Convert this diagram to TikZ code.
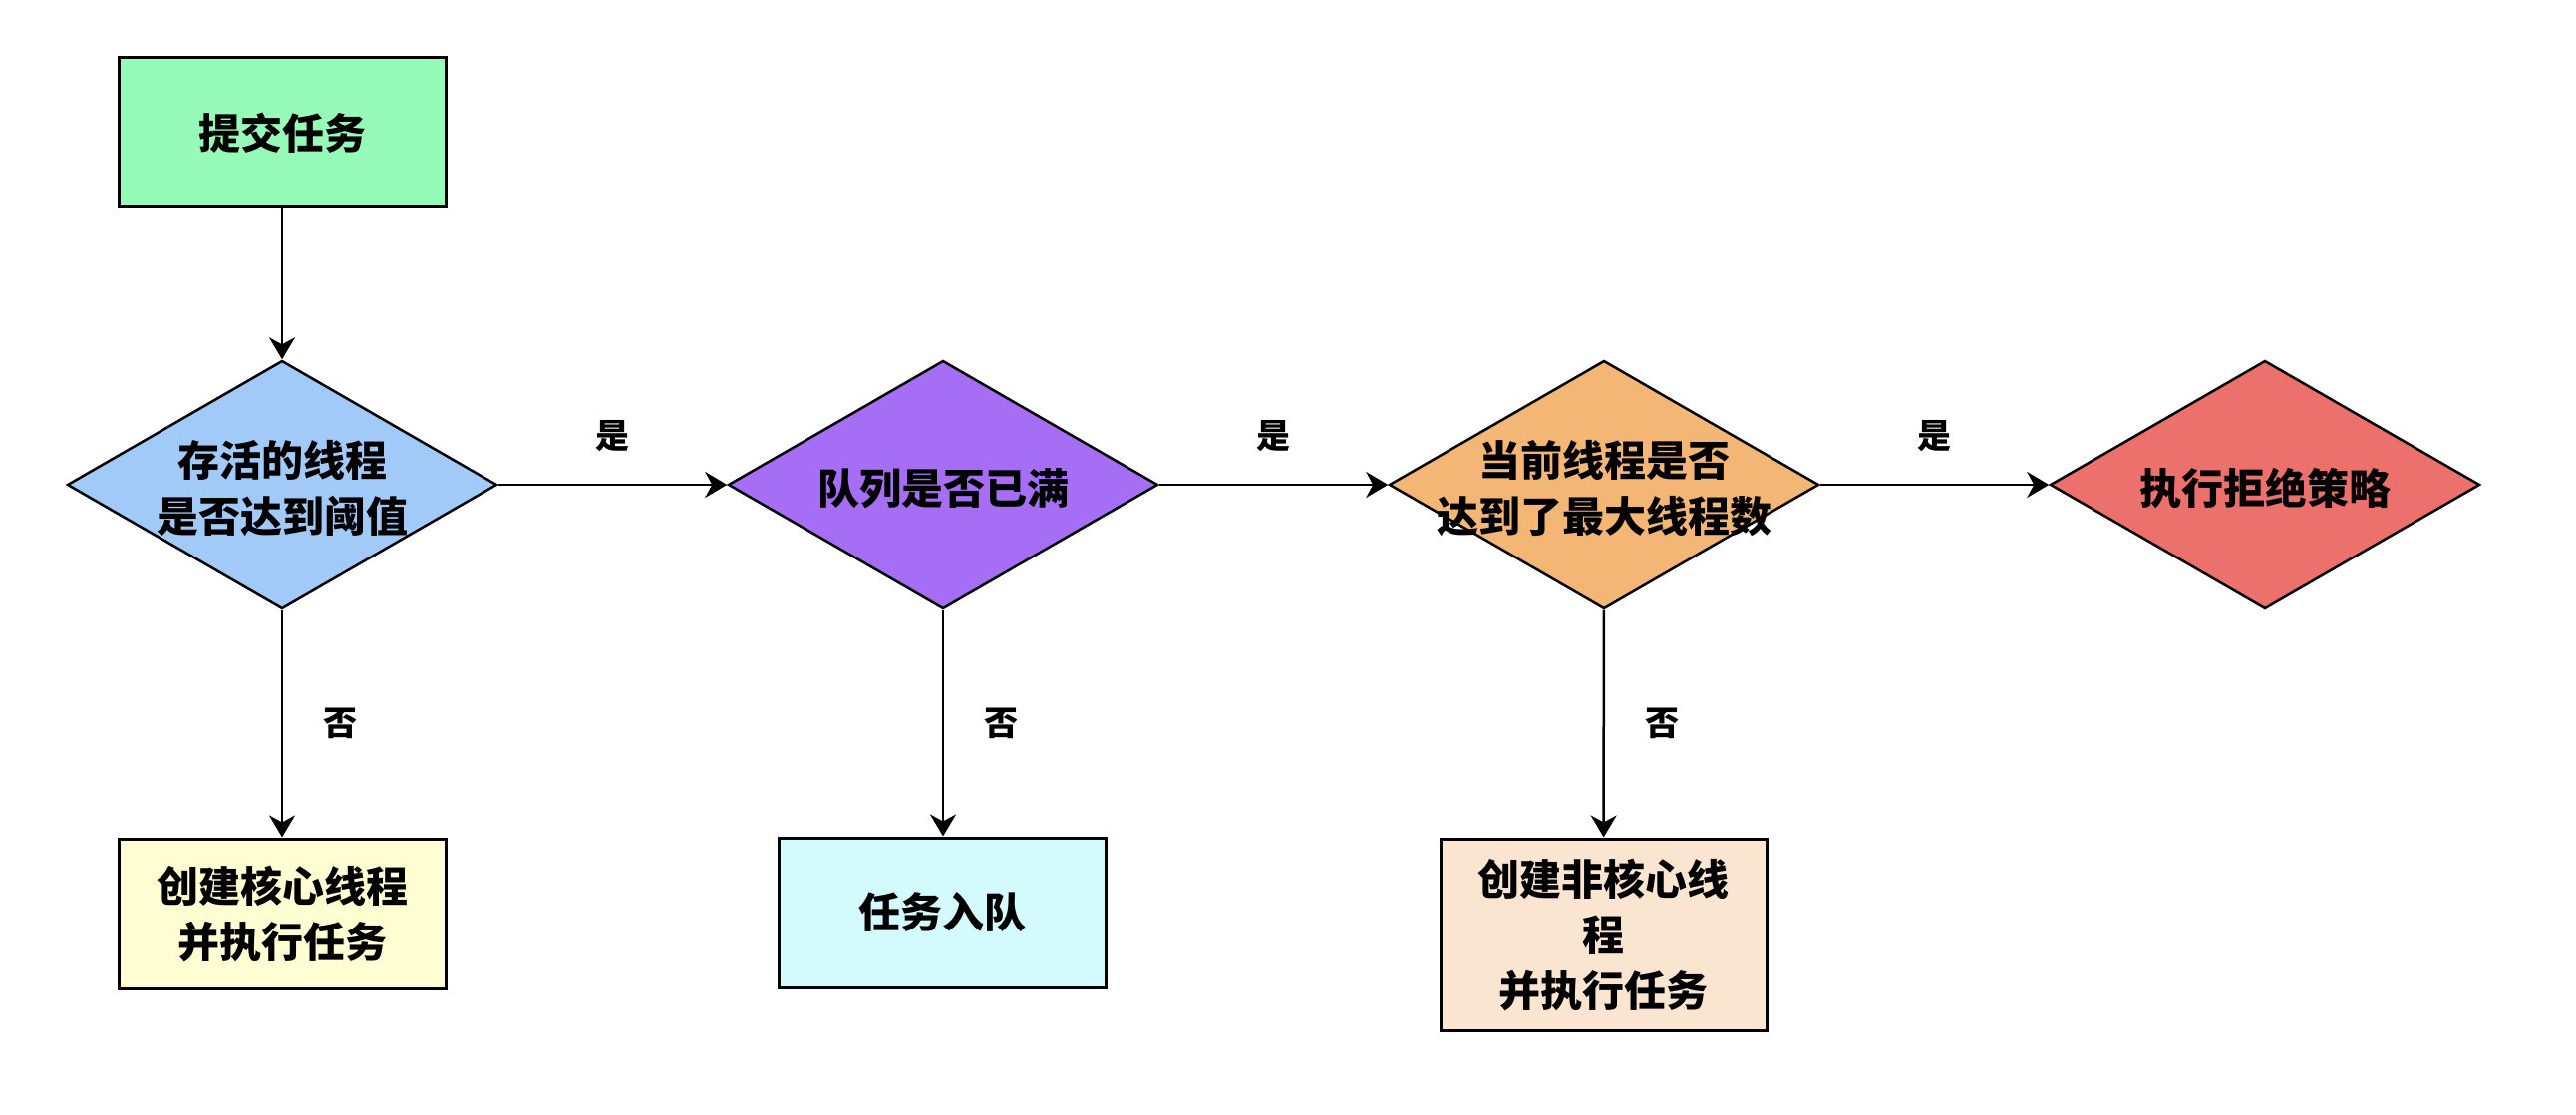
\documentclass[tikz,border=0pt]{standalone}
\usepackage{fontspec}
\setmainfont{Noto Sans CJK SC}
\usetikzlibrary{shapes.geometric,arrows.meta}
\definecolor{cgreen}{HTML}{96FBB8}
\definecolor{cblue}{HTML}{A2CAF8}
\definecolor{cpurple}{HTML}{A66EF5}
\definecolor{corange}{HTML}{F3B675}
\definecolor{cred}{HTML}{EC706B}
\definecolor{cyellow}{HTML}{FFFDD2}
\definecolor{ccyan}{HTML}{D3FAFC}
\definecolor{cpeach}{HTML}{FAE5D0}
\begin{document}
\begin{tikzpicture}[x=1pt,y=-1pt,
  box/.style={draw=black, line width=3pt, minimum width=328pt, minimum height=150pt, align=center, inner sep=0pt, font=\fontsize{42}{56}\selectfont\bfseries},
  decision/.style={draw=black, line width=2.5pt, shape=diamond, minimum width=431pt, minimum height=249pt, inner sep=0pt},
  dtext/.style={align=center, inner sep=0pt, font=\fontsize{42}{56}\selectfont\bfseries},
  arr/.style={draw=black, line width=2.5pt, -{Stealth[length=22pt,width=26pt,inset=7pt]}},
  lbl/.style={inner sep=0pt, font=\fontsize{34}{40}\selectfont\bfseries}]
\useasboundingbox (0,0) rectangle (2584,1118);
% nodes
\node[box, fill=cgreen] (start) at (283,133) {提交任务};
\node[decision, fill=cblue] (d1) at (283,486) {};
\node[dtext] (d1t) at (283,490) {存活的线程\\是否达到阈值};
\node[decision, fill=cpurple] (d2) at (946,486) {};
\node[dtext] (d2t) at (946,490) {队列是否已满};
\node[decision, fill=corange] (d3) at (1609,486) {};
\node[dtext] (d3t) at (1609,490) {当前线程是否\\达到了最大线程数};
\node[decision, fill=cred] (d4) at (2272,486) {};
\node[dtext] (d4t) at (2272,490) {执行拒绝策略};
\node[box, fill=cyellow] (b1) at (283,916) {创建核心线程\\并执行任务};
\node[box, fill=ccyan] (b2) at (945,915) {任务入队};
\node[box, fill=cpeach, minimum width=327pt, minimum height=192pt] (b3) at (1608.5,937) {创建非核心线\\程\\并执行任务};
% connectors
\draw[arr] (start) -- (d1);
\draw[arr] (d1) -- node[lbl, midway, above=32pt] (y1) {是} (d2);
\draw[arr] (d2) -- node[lbl, midway, above=32pt] (y2) {是} (d3);
\draw[arr] (d3) -- node[lbl, midway, above=32pt] (y3) {是} (d4);
\draw[arr] (d1) -- node[lbl, midway, right=40pt] (n1) {否} (b1);
\draw[arr] (d2.south) -- node[lbl, midway, right=40pt] (n2) {否} (b2.north -| d2.south);
\draw[arr] (d3) -- node[lbl, midway, right=40pt] (n3) {否} (b3);
\end{tikzpicture}
\end{document}
